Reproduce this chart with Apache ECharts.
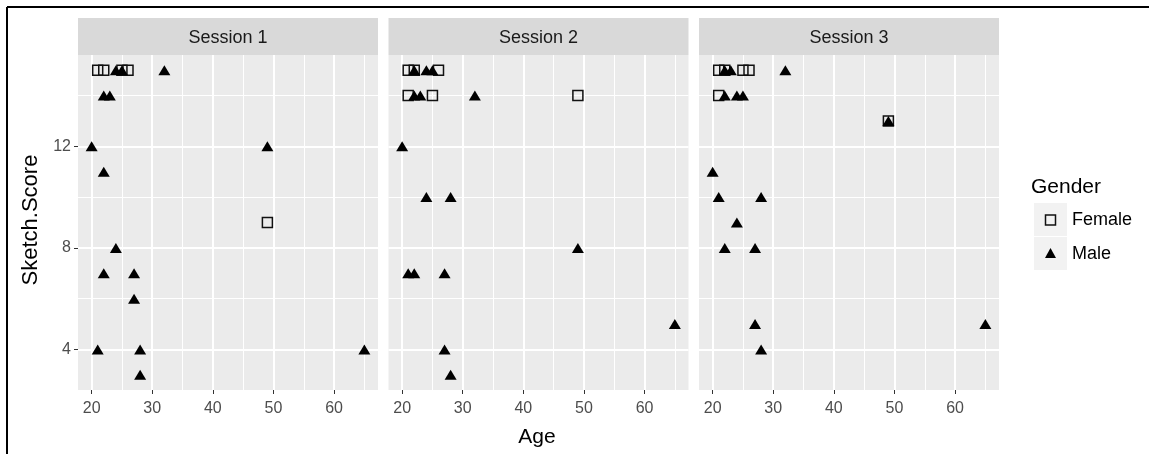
<!DOCTYPE html>
<html><head><meta charset="utf-8">
<script src="https://cdn.jsdelivr.net/npm/echarts@6/dist/echarts.min.js"></script>
<style>html,body{margin:0;padding:0;background:#fff}#c{width:1149px;height:454px}</style>
</head><body><div id="c"></div>
<script>
// ---- data ----
const sessions = ['Session 1', 'Session 2', 'Session 3'];
const s1FemaleAge = [21, 22, 25, 26, 49];
const s1FemaleScore = [15, 15, 15, 15, 9];
const s1MaleAge = [24, 25, 32, 22, 23, 20, 49, 22, 24, 22, 27, 27, 21, 28, 65, 28];
const s1MaleScore = [15, 15, 15, 14, 14, 12, 12, 11, 8, 7, 7, 6, 4, 4, 4, 3];
const s2FemaleAge = [21, 22, 26, 21, 25, 49];
const s2FemaleScore = [15, 15, 15, 14, 14, 14];
const s2MaleAge = [22, 24, 25, 22, 23, 32, 20, 24, 28, 49, 21, 22, 27, 65, 27, 28];
const s2MaleScore = [15, 15, 15, 14, 14, 14, 12, 10, 10, 8, 7, 7, 7, 5, 4, 3];
const s3FemaleAge = [21, 22, 25, 26, 21, 49];
const s3FemaleScore = [15, 15, 15, 15, 14, 13];
const s3MaleAge = [22, 23, 32, 22, 24, 25, 49, 20, 21, 28, 24, 22, 27, 27, 65, 28];
const s3MaleScore = [15, 15, 15, 14, 14, 14, 13, 11, 10, 10, 9, 8, 8, 5, 5, 4];
const xTicks = [20, 30, 40, 50, 60];
const xMinor = [25, 35, 45, 55, 65];
const yTicks = [4, 8, 12];
const yMinor = [6, 10, 14];
const genders = ['Female', 'Male'];

const femaleAges = [s1FemaleAge, s2FemaleAge, s3FemaleAge];
const femaleScores = [s1FemaleScore, s2FemaleScore, s3FemaleScore];
const maleAges = [s1MaleAge, s2MaleAge, s3MaleAge];
const maleScores = [s1MaleScore, s2MaleScore, s3MaleScore];
const zip = (a, b) => a.map((v, i) => [v, b[i]]);

// ---- layout ----
const lefts = [78, 388.5, 699];
const W = 300, TOP = 55, H = 335;
const labelFont = 'Liberation Sans, Arial, sans-serif';

const grids = [], xAxes = [], yAxes = [], series = [], graphics = [];
sessions.forEach((name, i) => {
  grids.push({left: lefts[i], top: TOP, width: W, height: H, show: true,
    backgroundColor: '#ebebeb', borderWidth: 0, containLabel: false});
  xAxes.push({type: 'value', gridIndex: i, min: 17.75, max: 67.25,
    axisLine: {show: false}, splitLine: {show: false},
    axisTick: {show: true, customValues: xTicks, length: 4, lineStyle: {color: '#333', width: 1}},
    axisLabel: {show: true, customValues: xTicks, margin: 11, color: '#4d4d4d', fontSize: 16, fontFamily: labelFont}});
  yAxes.push({type: 'value', gridIndex: i, min: 2.4, max: 15.6,
    axisLine: {show: false}, splitLine: {show: false},
    axisTick: {show: i === 0, customValues: yTicks, length: 4, lineStyle: {color: '#333', width: 1}},
    axisLabel: {show: i === 0, customValues: yTicks, margin: 7, color: '#4d4d4d', fontSize: 16, fontFamily: labelFont}});
  // grid lines via markLine (minor then major)
  series.push({type: 'scatter', xAxisIndex: i, yAxisIndex: i, data: [], silent: true, z: 1,
    markLine: {silent: true, z: 1, symbol: ['none', 'none'], label: {show: false}, animation: false,
      lineStyle: {color: '#fff', width: 1, type: 'solid'},
      data: xMinor.map(v => ({xAxis: v})).concat(yMinor.map(v => ({yAxis: v})))}});
  series.push({type: 'scatter', xAxisIndex: i, yAxisIndex: i, data: [], silent: true, z: 1,
    markLine: {silent: true, z: 1, symbol: ['none', 'none'], label: {show: false}, animation: false,
      lineStyle: {color: '#fff', width: 2, type: 'solid'},
      data: xTicks.map(v => ({xAxis: v})).concat(yTicks.map(v => ({yAxis: v})))}});
  series.push({name: 'Female', type: 'scatter', xAxisIndex: i, yAxisIndex: i, z: 6,
    data: zip(femaleAges[i], femaleScores[i]), symbol: 'rect', symbolSize: 10,
    itemStyle: {color: 'rgba(0,0,0,0)', borderColor: '#111', borderWidth: 1.5, opacity: 1}});
  series.push({name: 'Male', type: 'scatter', xAxisIndex: i, yAxisIndex: i, z: 7,
    data: zip(maleAges[i], maleScores[i]), symbol: 'triangle', symbolSize: [12, 10],
    itemStyle: {color: '#000', opacity: 1}});
  // strip
  graphics.push({type: 'rect', shape: {x: lefts[i], y: 18, width: W, height: 37}, style: {fill: '#d9d9d9'}, silent: true});
  graphics.push({type: 'text', x: lefts[i] + W / 2, y: 38, style: {text: name, fill: '#1a1a1a',
    font: '18px ' + labelFont, textAlign: 'center', textVerticalAlign: 'middle'}});
});

// outer frame lines (top/left)
graphics.push({type: 'line', shape: {x1: 7, y1: 7, x2: 1149, y2: 7}, style: {stroke: '#000', lineWidth: 2}});
graphics.push({type: 'line', shape: {x1: 7, y1: 7, x2: 7, y2: 454}, style: {stroke: '#000', lineWidth: 2}});
// axis titles
graphics.push({type: 'text', x: 537, y: 437, style: {text: 'Age', fill: '#000', font: '21px ' + labelFont,
  textAlign: 'center', textVerticalAlign: 'middle'}});
graphics.push({type: 'text', x: 31, y: 220, rotation: Math.PI / 2, style: {text: 'Sketch.Score', fill: '#000',
  font: '22px ' + labelFont, textAlign: 'center', textVerticalAlign: 'middle'}});
// legend
graphics.push({type: 'text', x: 1031, y: 187, style: {text: 'Gender', fill: '#000', font: '21px ' + labelFont,
  textAlign: 'left', textVerticalAlign: 'middle'}});
genders.forEach((g, k) => {
  const y0 = 203 + k * 34;
  graphics.push({type: 'rect', shape: {x: 1034, y: y0, width: 33, height: 33}, style: {fill: '#f2f2f2'}});
  if (k === 0) {
    graphics.push({type: 'rect', shape: {x: 1045.5, y: y0 + 12, width: 10, height: 10}, style: {fill: 'none', stroke: '#111', lineWidth: 1.5}});
  } else {
    graphics.push({type: 'polygon', shape: {points: [[1050.5, y0 + 11], [1056, y0 + 21], [1045, y0 + 21]]}, style: {fill: '#000'}});
  }
  graphics.push({type: 'text', x: 1072, y: y0 + 17, style: {text: g, fill: '#000', font: '18px ' + labelFont,
    textAlign: 'left', textVerticalAlign: 'middle'}});
});

const chart = echarts.init(document.getElementById('c'));
chart.setOption({animation: false, grid: grids, xAxis: xAxes, yAxis: yAxes, series: series, graphic: graphics});
</script></body></html>
